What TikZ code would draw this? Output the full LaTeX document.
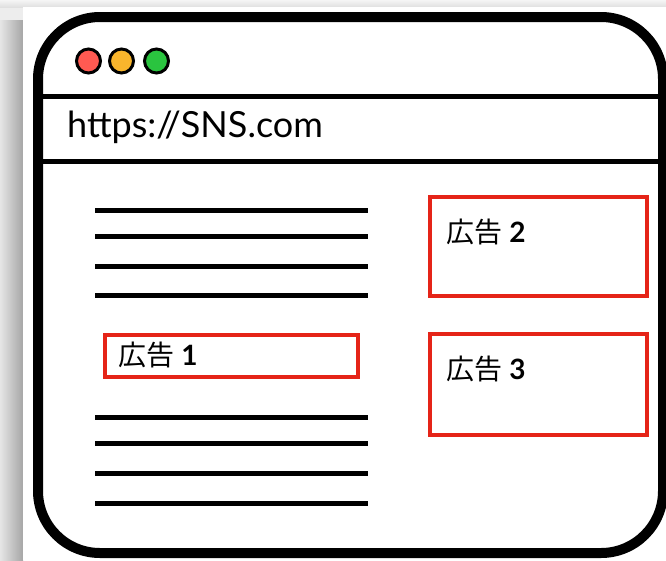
\documentclass[tikz,border=0pt]{standalone}
\usepackage{fontspec}
\setmainfont{Lato}
\newfontfamily\cjk{Noto Sans CJK JP}
\definecolor{adred}{HTML}{E52418}
\definecolor{tlred}{HTML}{FF5A52}
\definecolor{tlorange}{HTML}{F9B52C}
\definecolor{tlgreen}{HTML}{2AC43F}
\tikzset{
  frame/.style={line width=10pt, rounded corners=62pt},
  sep/.style={line width=5pt},
  textline/.style={line width=5pt},
  light/.style={draw=black, line width=3pt, circle, minimum size=24pt, inner sep=0pt},
  adbox/.style={draw=adred, line width=4pt},
  adlabel/.style={anchor=west, inner sep=0pt, font=\fontsize{28}{30}\selectfont},
  url/.style={anchor=base west, inner sep=0pt, font=\fontsize{36}{38}\selectfont}
}
\begin{document}
\begin{tikzpicture}[x=1pt,y=-1pt]
\useasboundingbox (0,0) rectangle (666,560);
% background and shadow
\fill[black!7] (0,0) rectangle (666,560);
\shade[left color=black!10, right color=black!35] (0,20) rectangle (23,560);
\shade[top color=black!4, bottom color=black!12] (0,0) rectangle (666,7);
\fill[white] (23,7) rectangle (666,560);
% window
\fill[white] (38,17) rectangle (663,553);
\draw[frame] (38,17) rectangle (663,553);
\coordinate (s1l) at (38,96); \coordinate (s1r) at (663,96);
\coordinate (s2l) at (38,161); \coordinate (s2r) at (663,161);
\draw[sep] (s1l) -- (s1r);
\draw[sep] (s2l) -- (s2r);
% traffic lights
\node[light, fill=tlred] (r) at (88.5,61) {};
\node[light, fill=tlorange] (o) at (121.5,61) {};
\node[light, fill=tlgreen] (g) at (156.5,61) {};
% url
\node[url] (u) at (67,137) {https://SNS.com};
% text lines
\foreach \y [count=\i] in {210,236,266,295,417,443,473,503}{
  \coordinate (la\i) at (95,\y); \coordinate (lb\i) at (368,\y);
  \draw[textline] (la\i) -- (lb\i);
}
% ads
\draw[adbox] (105,335) rectangle (358,377);
\draw[adbox] (430,197) rectangle (647,296);
\draw[adbox] (430,334) rectangle (647,435);
\node[adlabel] (a1) at (118,355) {{\cjk 広告} \textbf{1}};
\node[adlabel] (a2) at (446,232) {{\cjk 広告} \textbf{2}};
\node[adlabel] (a3) at (446,369) {{\cjk 広告} \textbf{3}};
\end{tikzpicture}
\end{document}
